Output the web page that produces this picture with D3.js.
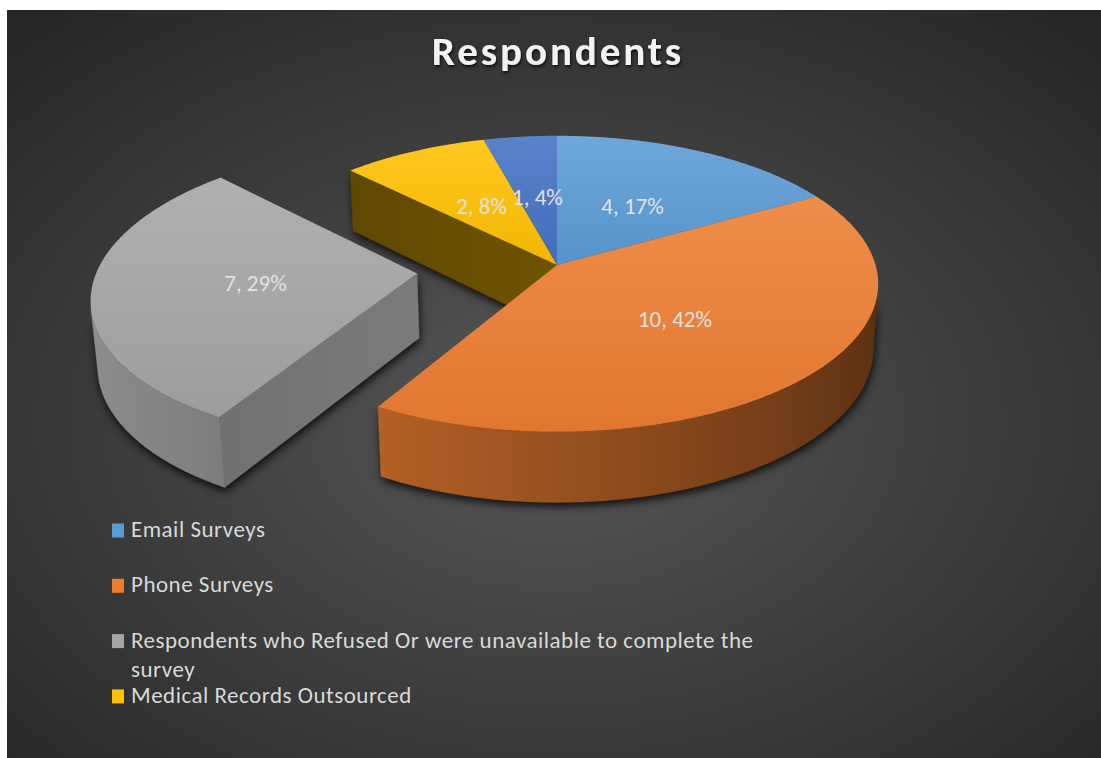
<!DOCTYPE html>
<html>
<head>
<meta charset="utf-8">
<script src="https://cdn.jsdelivr.net/npm/d3@7"></script>
<style>
  html, body { margin: 0; padding: 0; background: #ffffff; }
  svg { display: block; }
</style>
</head>
<body>
<svg id="chart" width="1101" height="758"></svg>
<script>
// ---- data ----
const chartTitle = "Respondents";
const categories = [
  "Email Surveys",
  "Phone Surveys",
  "Respondents who Refused Or were unavailable to complete the survey",
  "Medical Records Outsourced",
  ""
];
const values = [4, 10, 7, 2, 1];
const sliceColors = ["#5b9bd5", "#ed7d31", "#a5a5a5", "#ffc000", "#4472c4"];

// ---- layout ----
const W = 1101, H = 758;
const FONT = "Carlito, Lato, 'Open Sans', sans-serif";
const svg = d3.select("#chart");
const defs = svg.append("defs");

// chart area background: dark radial wash
const bg = defs.append("radialGradient").attr("id", "bgGrad")
  .attr("cx", 0.5).attr("cy", 0.55).attr("r", 0.72);
bg.append("stop").attr("offset", 0).attr("stop-color", "#575757");
bg.append("stop").attr("offset", 1).attr("stop-color", "#262626");
svg.append("rect").attr("x", 7).attr("y", 10)
  .attr("width", W - 7).attr("height", H - 10).attr("fill", "url(#bgGrad)");

// soft shadow under the pie pieces
const sh = defs.append("filter").attr("id", "pieShadow")
  .attr("x", -0.1).attr("y", -0.1).attr("width", 1.2).attr("height", 1.3);
sh.append("feGaussianBlur").attr("in", "SourceGraphic").attr("stdDeviation", 4).attr("result", "b");
sh.append("feOffset").attr("in", "b").attr("dx", 1).attr("dy", 4);

const ts = defs.append("filter").attr("id", "titleShadow")
  .attr("x", -0.1).attr("y", -0.3).attr("width", 1.2).attr("height", 1.6);
ts.append("feDropShadow").attr("dx", 1).attr("dy", 2).attr("stdDeviation", 1.5)
  .attr("flood-color", "#000").attr("flood-opacity", 0.75);

// ---- title ----
svg.append("text")
  .attr("x", 558).attr("y", 65)
  .attr("text-anchor", "middle")
  .attr("font-family", FONT).attr("font-weight", "bold")
  .attr("font-size", 41).attr("letter-spacing", 2.9)
  .attr("fill", "#f2f2f2")
  .attr("filter", "url(#titleShadow)")
  .text(chartTitle);

// ---- 3D pie projection ----
const tilt = 27.2 * Math.PI / 180;
const cosT = Math.cos(tilt), sinT = Math.sin(tilt);
const camDist = 7, focal = 2230;
const cx = 557, cy = 265;
const depth = 0.23;
const cam = [0, camDist * sinT, camDist * cosT];

function project(X, Y, Z) {
  const v = Y * cosT - Z * sinT;
  const w = camDist - Y * sinT - Z * cosT;
  return [cx + focal * X / w, cy - focal * v / w];
}

const color = d3.scaleOrdinal().domain(d3.range(values.length)).range(sliceColors);
const total = d3.sum(values);
const pie = d3.pie().sort(null).value(d => d);
const arcs = pie(values);

// the refused slice is pulled out of the pie
const explode = i => (i === 2 ? 0.44 : 0);

const slices = arcs.map((a, i) => {
  const mid = (a.startAngle + a.endAngle) / 2;
  const e = explode(i);
  return {
    i, value: a.value, a0: a.startAngle, a1: a.endAngle, mid,
    ox: e * Math.sin(mid), oz: -e * Math.cos(mid)
  };
});

const rim = (s, a, Y) => project(s.ox + Math.sin(a), Y, s.oz - Math.cos(a));
const hub = (s, Y) => project(s.ox, Y, s.oz);
const angles = s => {
  const n = Math.max(2, Math.ceil((s.a1 - s.a0) / (Math.PI / 360)));
  return d3.range(n + 1).map(k => s.a0 + (s.a1 - s.a0) * k / n);
};
const facing = (P, n) =>
  (cam[0] - P[0]) * n[0] + (cam[1] - P[1]) * n[1] + (cam[2] - P[2]) * n[2] > 0;

const closed = d3.line().curve(d3.curveLinearClosed);

function shade(base, f) {
  const c = d3.rgb(base);
  return d3.rgb(Math.min(255, c.r * f), Math.min(255, c.g * f), Math.min(255, c.b * f)).formatHex();
}

// curved wall lighting: light from the left, slightly in front
const light = (() => { const l = [-1, 0, 0.15]; const m = Math.hypot(...l); return l.map(v => v / m); })();
const wallFactor = a => 0.61 + 0.24 * (Math.sin(a) * light[0] + (-Math.cos(a)) * light[2]);
// flat cut faces
const cutFactor = n => 0.5 + 0.22 * (n[0] * 0.94 + n[2] * 0.34);

let gradId = 0;
function hGradient(x0, x1, stops) {
  const id = "g" + (gradId++);
  const g = defs.append("linearGradient").attr("id", id)
    .attr("gradientUnits", "userSpaceOnUse")
    .attr("x1", x0).attr("x2", x1).attr("y1", 0).attr("y2", 0);
  stops.forEach(([o, c]) => g.append("stop").attr("offset", o).attr("stop-color", c));
  return "url(#" + id + ")";
}
function topGradient(base) {
  const id = "g" + (gradId++);
  const g = defs.append("linearGradient").attr("id", id)
    .attr("x1", 0).attr("x2", 0).attr("y1", 0).attr("y2", 1);
  g.append("stop").attr("offset", 0).attr("stop-color", d3.interpolateRgb(base, "#ffffff")(0.12));
  g.append("stop").attr("offset", 1).attr("stop-color", d3.interpolateRgb(base, "#000000")(0.05));
  return "url(#" + id + ")";
}

// build faces for each slice
slices.forEach(s => {
  const as = angles(s);
  s.top = [hub(s, 0), ...as.map(a => rim(s, a, 0))];
  s.bottom = [hub(s, -depth), ...as.map(a => rim(s, a, -depth))];

  // curved outer wall, only the runs that face the camera
  s.walls = [];
  let run = [];
  as.forEach(a => {
    const P = [s.ox + Math.sin(a), -depth / 2, s.oz - Math.cos(a)];
    const n = [Math.sin(a), 0, -Math.cos(a)];
    if (facing(P, n)) run.push(a);
    else { if (run.length > 1) s.walls.push(run); run = []; }
  });
  if (run.length > 1) s.walls.push(run);

  // flat cut faces at both ends of the slice
  s.cuts = [];
  const P = [s.ox, -depth / 2, s.oz];
  const n0 = [-Math.cos(s.a0), 0, -Math.sin(s.a0)];
  const n1 = [Math.cos(s.a1), 0, Math.sin(s.a1)];
  [[s.a0, n0], [s.a1, n1]].forEach(([a, n]) => {
    if (facing(P, n)) s.cuts.push({ a, n });
  });
  s.sortKey = s.oz - 0.5 * Math.cos(s.mid);
});

const order = slices.slice().sort((a, b) => a.sortKey - b.sortKey);

// shadows
const shadowG = svg.append("g").attr("filter", "url(#pieShadow)").attr("opacity", 0.8);
order.forEach(s => {
  shadowG.append("path").attr("d", closed(s.bottom)).attr("fill", "#000");
  s.walls.forEach(run => {
    const pts = [...run.map(a => rim(s, a, 0)), ...run.slice().reverse().map(a => rim(s, a, -depth))];
    shadowG.append("path").attr("d", closed(pts)).attr("fill", "#000");
  });
  s.cuts.forEach(c => {
    const pts = [hub(s, 0), rim(s, c.a, 0), rim(s, c.a, -depth), hub(s, -depth)];
    shadowG.append("path").attr("d", closed(pts)).attr("fill", "#000");
  });
});

// pie pieces, back to front
const pieG = svg.append("g");
order.forEach(s => {
  const base = color(s.i);
  const g = pieG.append("g");

  s.cuts.forEach(c => {
    const pts = [hub(s, 0), rim(s, c.a, 0), rim(s, c.a, -depth), hub(s, -depth)];
    const xs = pts.map(p => p[0]);
    const f = cutFactor(c.n);
    const fill = hGradient(d3.min(xs), d3.max(xs), [[0, shade(base, f - 0.03)], [1, shade(base, f + 0.03)]]);
    g.append("path").attr("d", closed(pts)).attr("fill", fill)
      .attr("stroke", fill).attr("stroke-width", 0.5).attr("stroke-linejoin", "round");
  });

  s.walls.forEach(run => {
    const topPts = run.map(a => rim(s, a, 0));
    const botPts = run.map(a => rim(s, a, -depth));
    const pts = [...topPts, ...botPts.slice().reverse()];
    const xs = pts.map(p => p[0]);
    const x0 = d3.min(xs), x1 = d3.max(xs);
    const step = Math.max(1, Math.floor(run.length / 12));
    const stops = run.filter((a, k) => k % step === 0 || k === run.length - 1).map(a => {
      const x = rim(s, a, -depth / 2)[0];
      return [(x - x0) / Math.max(1, x1 - x0), shade(base, wallFactor(a))];
    }).sort((p, q) => p[0] - q[0]);
    const fill = hGradient(x0, x1, stops);
    g.append("path").attr("d", closed(pts)).attr("fill", fill)
      .attr("stroke", fill).attr("stroke-width", 0.5).attr("stroke-linejoin", "round");
  });

  g.append("path").attr("d", closed(s.top)).attr("fill", topGradient(base));
});

// data labels
const labelG = svg.append("g");
slices.forEach(s => {
  const p = project(s.ox + 0.5 * Math.sin(s.mid), 0, s.oz - 0.5 * Math.cos(s.mid));
  labelG.append("text")
    .attr("x", p[0]).attr("y", p[1]).attr("dy", "0.36em")
    .attr("text-anchor", "middle")
    .attr("font-family", FONT).attr("font-size", 23)
    .attr("fill", "#e2e2e2")
    .text(`${s.value}, ${Math.round(s.value / total * 100)}%`);
});

// legend
const legendG = svg.append("g");
const legendX = 112, legendTop = 537, legendStep = 55.3, lineH = 29.5, wrapW = 660;
categories.forEach((name, i) => {
  if (!name) return;
  const y = legendTop + i * legendStep;
  legendG.append("rect").attr("x", legendX).attr("y", y - 13.5)
    .attr("width", 12).attr("height", 14).attr("fill", color(i));
  const t = legendG.append("text")
    .attr("x", legendX + 19).attr("y", y)
    .attr("font-family", FONT).attr("font-size", 23).attr("letter-spacing", 0.5)
    .attr("fill", "#d9d9d9");
  // simple word wrap
  const words = name.split(" ");
  let line = [], lineNo = 0;
  let ts = t.append("tspan").attr("x", legendX + 19).attr("y", y);
  words.forEach(w => {
    line.push(w);
    ts.text(line.join(" "));
    if (ts.node().getComputedTextLength() > wrapW && line.length > 1) {
      line.pop();
      ts.text(line.join(" "));
      line = [w];
      lineNo++;
      ts = t.append("tspan").attr("x", legendX + 19).attr("y", y + lineNo * lineH).text(w);
    }
  });
});
</script>
</body>
</html>
